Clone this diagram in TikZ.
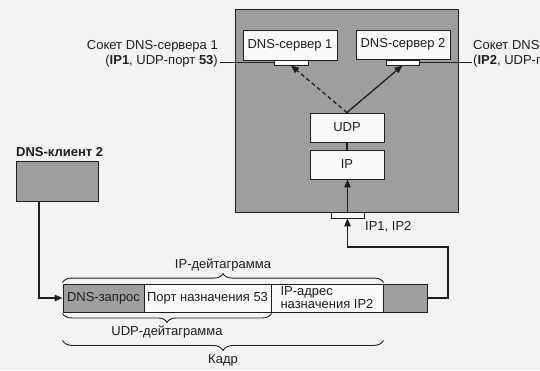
\documentclass[tikz,border=0pt]{standalone}
\usepackage{fontspec}
\setmainfont{Liberation Sans}
\usetikzlibrary{arrows.meta,decorations.pathreplacing}
\definecolor{bg}{RGB}{243,243,241}
\definecolor{hostgray}{RGB}{158,158,158}
\definecolor{boxfill}{RGB}{250,250,248}
\definecolor{ink}{RGB}{30,30,30}
\tikzset{
  txt/.style={font=\fontsize{13}{15}\selectfont, text=ink, inner sep=0pt},
  wbox/.style={draw=ink, line width=0.9pt, fill=boxfill, inner sep=0pt, font=\fontsize{13}{13}\selectfont, text=ink},
  gbox/.style={draw=ink, line width=0.9pt, fill=hostgray, inner sep=0pt, font=\fontsize{13}{13}\selectfont, text=ink},
  sbar/.style={draw=ink, line width=0.8pt, fill=boxfill, inner sep=0pt},
  conn/.style={draw=ink, line width=1.3pt},
  tip/.style={-{Triangle[length=8pt,width=6.5pt]}},
  brc/.style={draw=ink, line width=0.9pt, decorate},
}
\begin{document}
\begin{tikzpicture}[x=1pt,y=-1pt]
\clip (0,0) rectangle (540,370);
\fill[bg] (0,0) rectangle (540,370);

% host
\node[gbox, minimum width=223pt, minimum height=203pt] (host) at (346.5,110.5) {};
\node[wbox, minimum width=94pt, minimum height=30pt] (srv1) at (290,45) {DNS-сервер 1};
\node[wbox, minimum width=94pt, minimum height=29pt] (srv2) at (403,44.5) {DNS-сервер 2};
\node[sbar, minimum width=34pt, minimum height=5pt] (bar1) at (291,62.5) {};
\node[sbar, minimum width=33pt, minimum height=5pt] (bar2) at (402.5,62.5) {};
\node[wbox, minimum width=74pt, minimum height=29pt] (udp) at (347,127.5) {UDP};
\node[wbox, minimum width=74pt, minimum height=29pt] (ip) at (347,164.5) {IP};
\node[sbar, minimum width=33pt, minimum height=6pt] (ifbar) at (347.5,215) {};
\node[txt, anchor=west] (iflbl) at (365,227) {IP1, IP2};

% socket labels
\node[txt, anchor=east, align=right] (lbl1) at (218,54) {Сокет DNS-сервера 1\\(\textbf{IP1}, UDP-порт \textbf{53})};
\node[txt, anchor=west, align=left] (lbl2) at (473,54) {Сокет DNS-сервера 2\\(\textbf{IP2}, UDP-порт \textbf{53})};
\coordinate (s1) at (220,62.5);
\coordinate (s2) at (472,62.5);
\draw[draw=ink, line width=0.9pt] (s1) -- (bar1.west);
\draw[draw=ink, line width=0.9pt] (bar2.east) -- (s2);

% client
\node[gbox, minimum width=82pt, minimum height=40pt] (client) at (57,181) {};
\node[txt, anchor=west, font=\fontsize{13}{15}\selectfont\bfseries] (clbl) at (16,152) {DNS-клиент 2};

% frame
\node[gbox, minimum width=81pt, minimum height=28pt] (q) at (103.5,298) {DNS-запрос};
\node[wbox, minimum width=127pt, minimum height=28pt] (port) at (207.5,298) {Порт назначения 53};
\node[wbox, minimum width=112pt, minimum height=28pt, align=left] (addr) at (327,298) {IP-адрес\\назначения IP2};
\node[gbox, minimum width=44pt, minimum height=28pt] (tail) at (405,298) {};

% connectors
\draw[conn, dashed, dash pattern=on 4pt off 3pt, tip] (udp.north) -- (bar1.south);
\draw[conn, tip] (udp.north) -- (bar2.south);
\draw[conn] (udp.south) -- (ip.north);
\draw[conn, tip] (ifbar.north) -- (ifbar.north |- ip.south);
\coordinate (c1) at (448,247);
\draw[conn, tip] (tail.east) -| (c1) -| (ifbar.south);
\draw[conn, tip] ([xshift=-18pt]client.south) |- (q.west);

% braces
\draw[brc, decoration={brace, amplitude=9pt}] ([yshift=1pt]q.north west) -- ([yshift=1pt]addr.north east);
\node[txt] (lip) at (223,265) {IP-дейтаграмма};
\draw[brc, decoration={brace, amplitude=9pt}] ([yshift=-1pt]port.south east) -- ([yshift=-1pt]q.south west);
\node[txt] (ludp) at (167,332) {UDP-дейтаграмма};
\draw[brc, decoration={brace, amplitude=10pt}] ([yshift=-28pt]addr.south east) -- ([yshift=-28pt]q.south west);
\node[txt] (lfr) at (223,360) {Кадр};
\end{tikzpicture}
\end{document}
